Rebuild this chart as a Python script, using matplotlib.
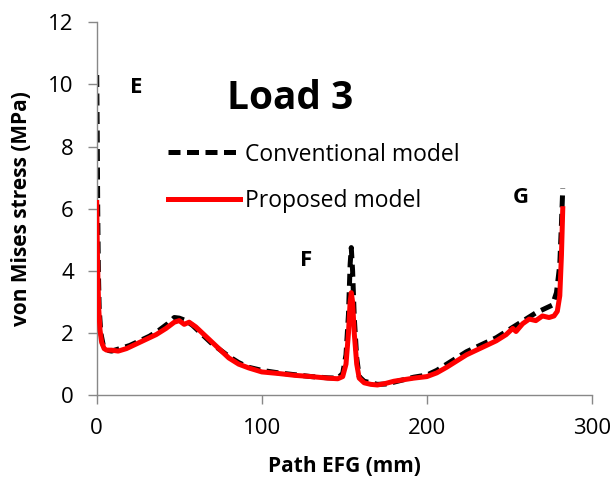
import matplotlib
matplotlib.use("Agg")
import matplotlib.pyplot as plt

# ── Data ─────────────────────────────────────────────────────────────────────
conv_x = [0, 0.3, 0.6, 1, 1.5, 2.5, 4, 6, 9, 14, 20, 26, 32, 38, 43, 47, 50,
          54, 58, 62, 66, 70, 75, 80, 86, 92, 100, 110, 120, 130, 140, 146,
          149, 151, 152.5, 153.5, 154.2, 155, 156, 157.5, 159, 162, 166, 170,
          175, 180, 186, 192, 200, 206, 212, 218, 224, 230, 236, 242, 248,
          254, 260, 266, 272, 276, 278.5, 280.5, 281.5, 282.3]
conv_y = [10.3, 8.5, 6.0, 4.0, 2.8, 2.0, 1.6, 1.45, 1.42, 1.5, 1.6, 1.75,
          1.9, 2.1, 2.3, 2.5, 2.48, 2.4, 2.25, 2.05, 1.85, 1.65, 1.45, 1.25,
          1.05, 0.9, 0.8, 0.72, 0.66, 0.6, 0.56, 0.55, 0.7, 1.3, 2.6, 4.2,
          4.75, 4.0, 2.5, 1.2, 0.6, 0.45, 0.4, 0.35, 0.36, 0.42, 0.5, 0.58,
          0.65, 0.8, 1.0, 1.2, 1.4, 1.55, 1.7, 1.85, 2.05, 2.25, 2.45, 2.65,
          2.8, 2.9, 3.3, 4.2, 5.5, 6.65]

prop_x = [0, 0.3, 0.7, 1.2, 2, 3, 4.5, 6, 9, 13, 18, 24, 30, 36, 42, 47, 50,
          53, 56, 60, 64, 68, 72, 76, 80, 86, 92, 100, 110, 120, 130, 140,
          146, 149, 151, 152.5, 153.5, 154.2, 155, 156, 157.5, 159, 162, 166,
          170, 175, 180, 186, 192, 200, 206, 212, 218, 224, 230, 236, 242,
          248, 252, 254, 258, 262, 266, 270, 274, 277, 279, 280.5, 281.5,
          282.3]
prop_y = [6.2, 5.0, 3.8, 2.8, 2.1, 1.7, 1.5, 1.45, 1.45, 1.42, 1.5, 1.65,
          1.8, 1.95, 2.15, 2.35, 2.4, 2.28, 2.35, 2.2, 2.0, 1.8, 1.6, 1.4,
          1.2, 1.0, 0.88, 0.75, 0.7, 0.64, 0.6, 0.55, 0.53, 0.6, 1.0, 2.0,
          3.0, 3.3, 3.0, 2.0, 1.0, 0.55, 0.4, 0.35, 0.33, 0.38, 0.45, 0.5,
          0.55, 0.6, 0.72, 0.9, 1.1, 1.3, 1.45, 1.6, 1.75, 1.95, 2.15, 2.05,
          2.3, 2.45, 2.4, 2.55, 2.5, 2.55, 2.7, 3.2, 4.5, 6.0]

x_ticks = [0, 100, 200, 300]
y_ticks = [0, 2, 4, 6, 8, 10, 12]

# ── Plot ─────────────────────────────────────────────────────────────────────
plt.rcParams["font.family"] = ["Open Sans", "DejaVu Sans"]

fig = plt.figure(figsize=(6.16, 4.82), dpi=100)
ax = fig.add_axes([0.157, 0.180, 0.804, 0.774])

ax.plot(conv_x, conv_y, color="black", linewidth=3.6, linestyle=(0, (2.4, 1.3)),
        label="Conventional model", zorder=2)
ax.plot(prop_x, prop_y, color="#FF0000", linewidth=3.6,
        label="Proposed model", zorder=3)

ax.set_xlim(0, 300)
ax.set_ylim(0, 12)
ax.set_xticks(x_ticks)
ax.set_yticks(y_ticks)
ax.tick_params(axis="both", labelsize=16, color="#888888", length=6.5,
               width=1, direction="out", pad=10)
for side in ["top", "right"]:
    ax.spines[side].set_visible(False)
for side in ["left", "bottom"]:
    ax.spines[side].set_color("#888888")
    ax.spines[side].set_linewidth(1)

ax.set_xlabel("Path EFG (mm)", fontsize=15, fontweight="bold", labelpad=12)
ax.set_ylabel("von Mises stress (MPa)", fontsize=15, fontweight="bold", labelpad=12)

ax.legend(loc="upper left", bbox_to_anchor=(0.125, 0.702), frameon=False,
          fontsize=16.5, handlelength=3.15, handletextpad=0.2, labelspacing=1.0,
          borderaxespad=0)

ax.text(24, 9.9, "E", fontsize=16, fontweight="bold", ha="center", va="center")
ax.text(127, 4.35, "F", fontsize=16, fontweight="bold", ha="center", va="center")
ax.text(257, 6.35, "G", fontsize=16, fontweight="bold", ha="center", va="center")
ax.text(117, 9.55, "Load 3", fontsize=28, fontweight="bold", ha="center", va="center")

fig.savefig("out.png", dpi=100)
